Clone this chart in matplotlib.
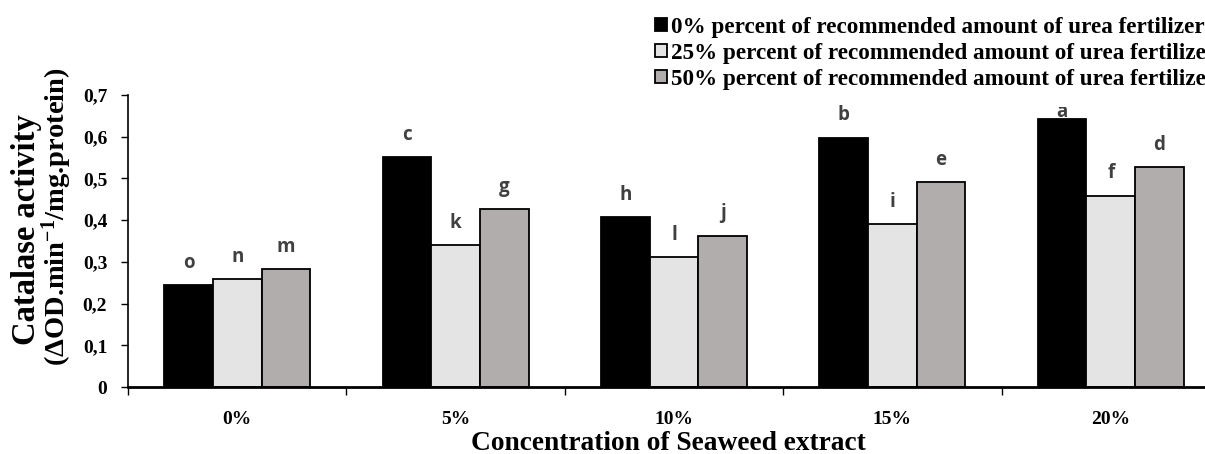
import numpy as np
import matplotlib
matplotlib.use('Agg')
import matplotlib.pyplot as plt
from matplotlib.transforms import Bbox, TransformedBbox

# data
concentrations = ['0%', '5%', '10%', '15%', '20%']
urea_0 = [0.245, 0.551, 0.407, 0.598, 0.643]
urea_25 = [0.259, 0.340, 0.312, 0.390, 0.459]
urea_50 = [0.283, 0.427, 0.363, 0.492, 0.527]
letters_0 = ['o', 'c', 'h', 'b', 'a']
letters_25 = ['n', 'k', 'l', 'i', 'f']
letters_50 = ['m', 'g', 'j', 'e', 'd']
series_names = ['0% percent of recommended amount of urea fertilizer',
                '25% percent of recommended amount of urea fertilizer',
                '50% percent of recommended amount of urea fertilizer']

colors = ['#000000', '#e4e4e4', '#b0adac']
serif = 'Liberation Serif'
plt.rcParams['mathtext.fontset'] = 'custom'
plt.rcParams['mathtext.rm'] = 'Liberation Serif:bold'
plt.rcParams['mathtext.bf'] = 'Liberation Serif:bold'
plt.rcParams['mathtext.it'] = 'Liberation Serif:bold'

W, H = 1205, 454
fig = plt.figure(figsize=(W / 100, H / 100), dpi=100)
ax = fig.add_axes([128 / W, 1 - 387 / H, 1092 / W, 292 / H])

# the original plot area clips labels a little above 0,7
clip = TransformedBbox(Bbox.from_extents(0, 0, 1, 1 - 107 / H), fig.transFigure)

x = np.arange(len(concentrations))
w = 0.223
all_series = [urea_0, urea_25, urea_50]
all_letters = [letters_0, letters_25, letters_50]
for i, (vals, lets) in enumerate(zip(all_series, all_letters)):
    pos = x + (i - 1) * w
    ax.bar(pos, vals, width=w, color=colors[i], edgecolor='black',
           linewidth=1.3, label=series_names[i])
    for px, v, l in zip(pos, vals, lets):
        if v > 0.62:
            # too tall: label pushed down onto the bar and cut at the top
            t = ax.annotate(l, (px, v), xytext=(0, 1), textcoords='offset points',
                            ha='center', va='baseline', fontsize=13.5,
                            fontweight='bold', color='#404040', family='Open Sans')
            t.set_clip_box(clip)
            t.set_clip_on(True)
        else:
            ax.annotate(l, (px, v), xytext=(0, 16), textcoords='offset points',
                        ha='center', va='center', fontsize=13.5, fontweight='bold',
                        color='#404040', family='Open Sans')

ax.set_xlim(-0.5, 4.5)
ax.set_ylim(0, 0.7)
ax.set_yticks(np.arange(0, 0.71, 0.1))
ax.set_yticklabels(['0', '0,1', '0,2', '0,3', '0,4', '0,5', '0,6', '0,7'])
ax.set_xticks(x)
ax.set_xticklabels(concentrations)
for lab in ax.get_xticklabels() + ax.get_yticklabels():
    lab.set_fontfamily(serif)
    lab.set_fontweight('bold')
    lab.set_fontsize(14)
ax.set_xticks(np.arange(-0.5, 4.6, 1), minor=True)
ax.tick_params(axis='x', which='major', length=0, pad=17)
ax.tick_params(axis='x', which='minor', length=6, width=1, direction='out')
ax.tick_params(axis='y', length=5, width=1, direction='out', pad=10)

for s in ['top', 'right']:
    ax.spines[s].set_visible(False)
ax.spines['left'].set_linewidth(1.2)
ax.spines['bottom'].set_linewidth(2)

# y label: two lines in different sizes, as in the original
fig.text(27 / W, 1 - 230 / H, 'Catalase activity', rotation=90,
         ha='center', va='center', fontfamily=serif, fontweight='bold',
         fontsize=23.5)
fig.text(57 / W, 1 - 217 / H, '(ΔOD.min$^{-1}$/mg.protein)', rotation=90,
         ha='center', va='center', fontfamily=serif, fontweight='bold',
         fontsize=20.5)

ax.set_xlabel('Concentration of Seaweed extract', fontfamily=serif,
              fontweight='bold', fontsize=19.7)
ax.xaxis.set_label_coords(540 / 1092, -0.151)

fig.legend(loc='upper left', bbox_to_anchor=(643 / W, 1 - 5 / H),
           frameon=False, handlelength=0.52, handleheight=0.52,
           handletextpad=0.2, labelspacing=0.22, borderpad=0,
           prop={'family': serif, 'weight': 'bold', 'size': 16.7})

plt.savefig('out.png', dpi=100)
